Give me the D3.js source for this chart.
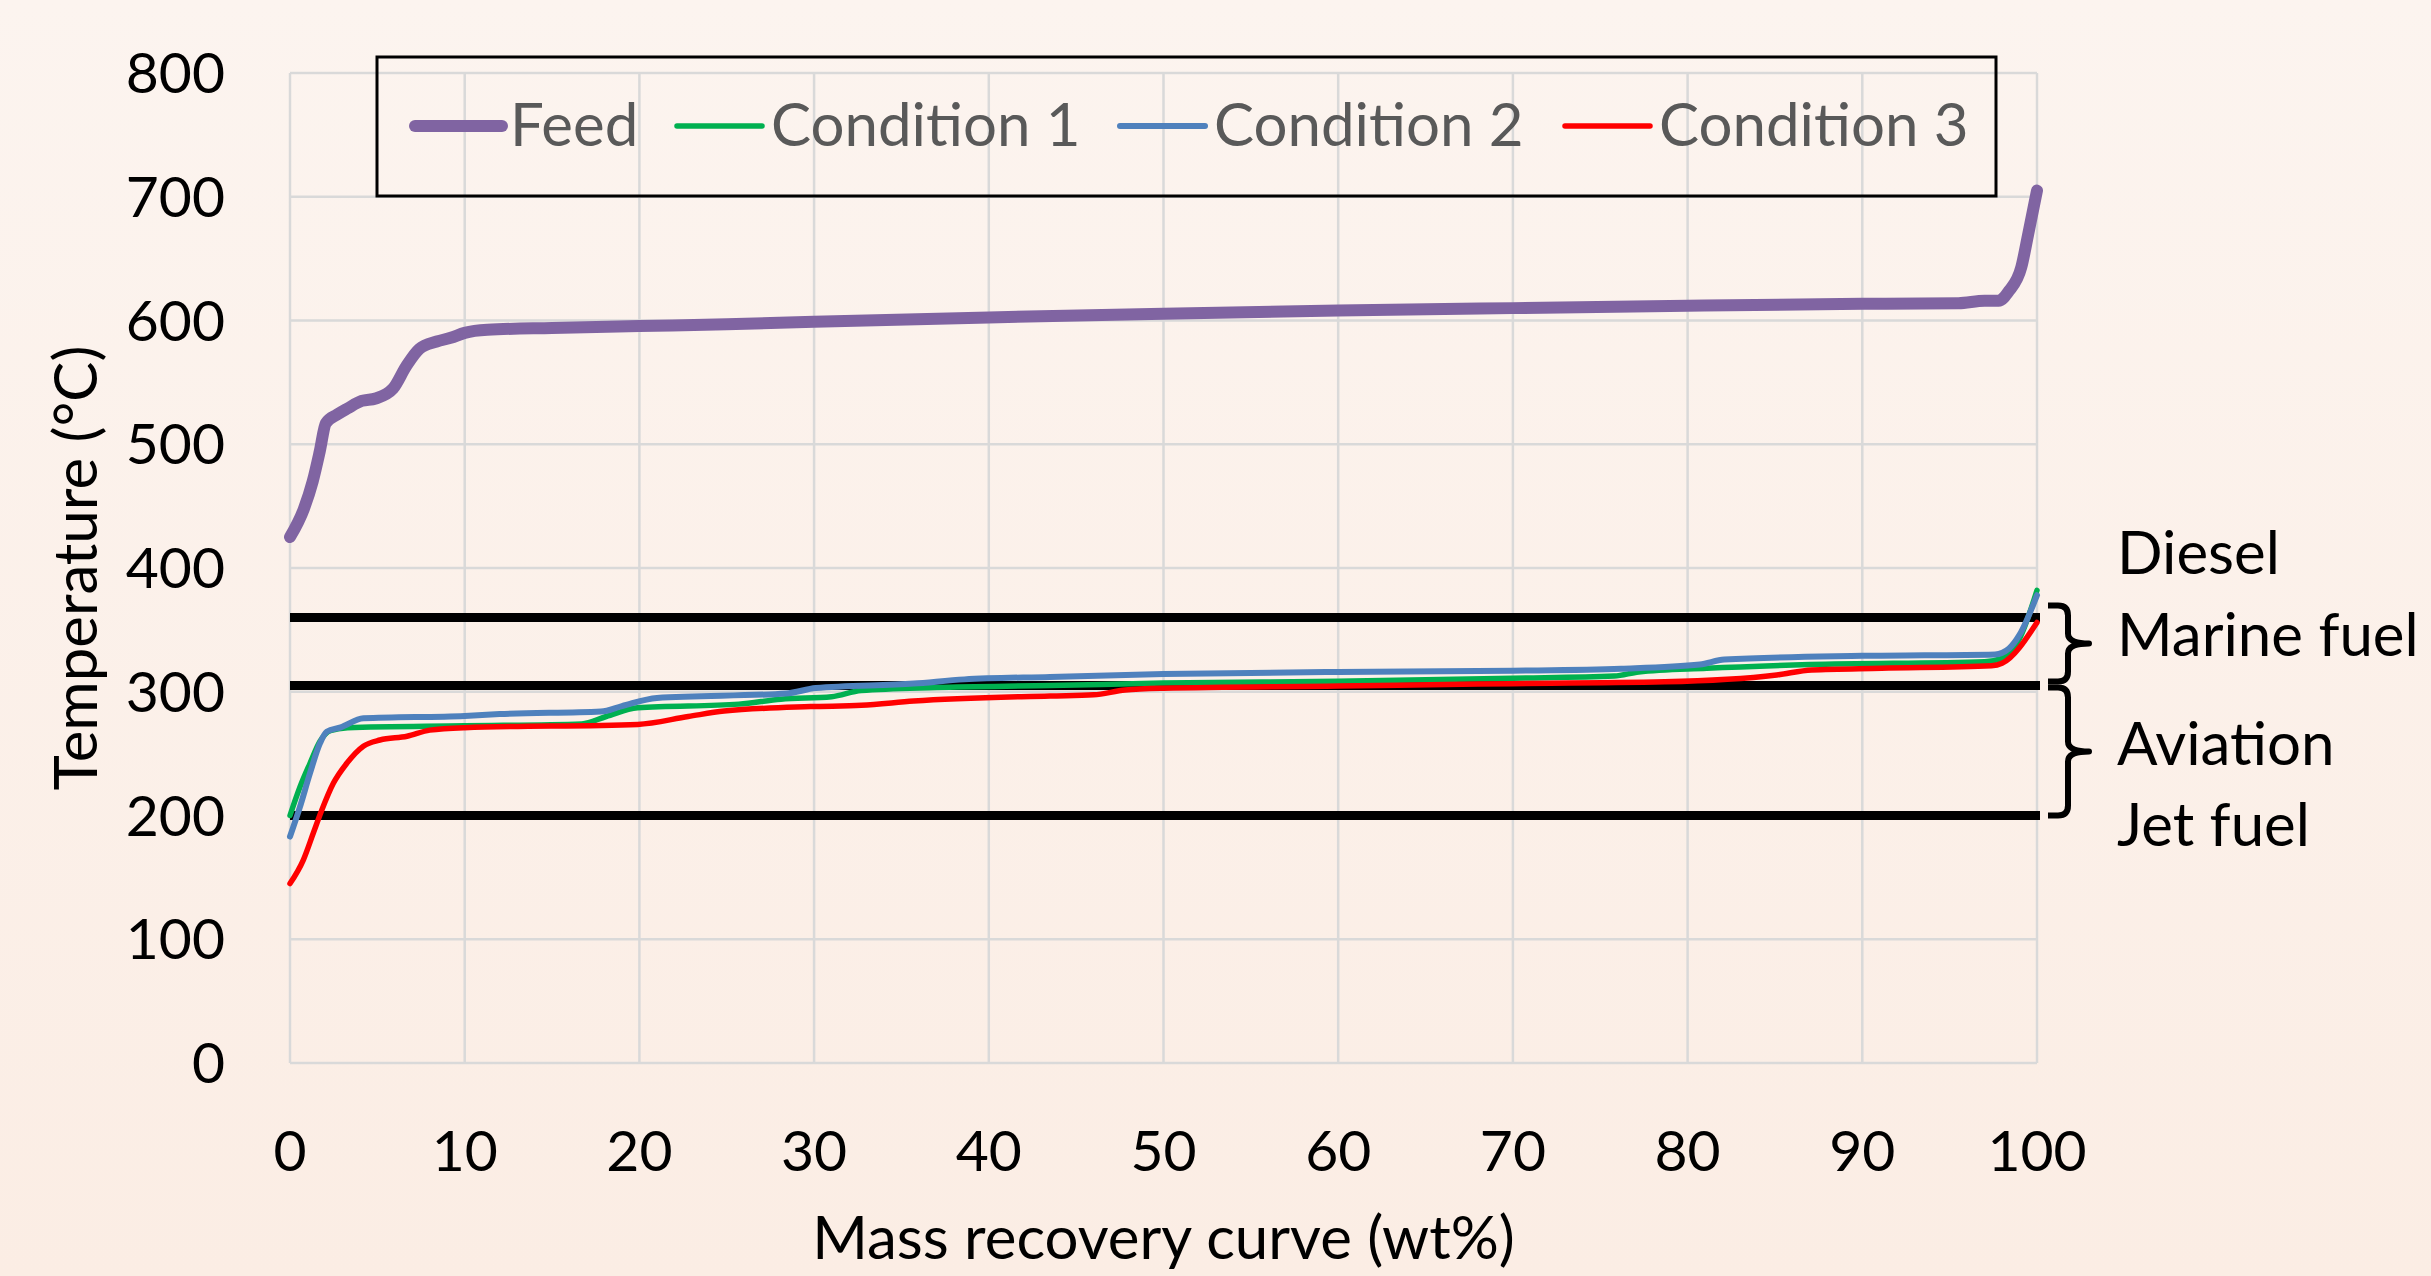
<!DOCTYPE html>
<html>
<head>
<meta charset="utf-8">
<script src="https://cdn.jsdelivr.net/npm/d3@7"></script>
<style>
  html, body { margin: 0; padding: 0; background: #fcf2eb; }
  svg { display: block; }
  text { font-family: Lato, "Open Sans", sans-serif; }
</style>
</head>
<body>
<svg id="chart" width="2431" height="1276"></svg>
<script>
// ---------------- data ----------------
const xTicks = [0, 10, 20, 30, 40, 50, 60, 70, 80, 90, 100];
const yTicks = [0, 100, 200, 300, 400, 500, 600, 700, 800];

const feedX = [0, 0.8, 1.3, 1.7, 2.05, 2.7, 3.3, 4.1, 4.9, 5.9, 6.65, 7.4, 8.4, 9.2, 10, 11.3, 15, 20, 25, 30, 40, 50, 60, 70, 80, 90, 95.5, 97, 97.8, 98.4, 99.1, 99.5, 100];
const feedY = [425, 448, 470, 494, 517, 524, 529, 535, 537, 545, 563, 577, 583, 586, 590, 592.5, 594, 595.5, 597, 599, 602.5, 605.5, 608, 610, 612, 613.5, 614, 616, 616, 624, 643, 670, 705];

const cond1X = [0, 0.57, 1.14, 1.72, 2.3, 3.3, 10, 16.7, 18.1, 19.9, 25.7, 28.1, 31, 32.7, 37, 43.5, 50, 60, 70, 75.8, 77.2, 81.1, 87, 97, 98, 99, 100];
const cond1Y = [200, 223, 242, 260, 268.5, 271, 272.5, 274, 280, 287, 290, 294, 296, 301, 303.5, 305, 307, 308.5, 311, 312.7, 316, 319, 322, 324.3, 327, 343, 382];

const cond2X = [0, 0.57, 1.14, 1.72, 2.1, 2.9, 4.2, 10, 12, 17.8, 19, 21, 28.4, 30.1, 35.7, 38.6, 43.5, 50, 60, 70, 76.2, 80.7, 82.1, 90, 97.6, 98.4, 99, 100];
const cond2Y = [183, 207, 234, 258.5, 267.7, 271.2, 278.5, 280.5, 282, 284, 288.4, 295, 298.6, 303, 306.6, 310, 312, 314.3, 316, 317, 318.6, 322, 326, 329, 330.2, 335, 346, 378];

const cond3X = [0, 0.76, 1.34, 1.81, 2.48, 3.24, 4.2, 5.15, 6.7, 8.0, 10, 19.9, 22.8, 24.85, 29.8, 32.7, 35.7, 43.5, 46, 47.8, 50, 60, 68, 78.7, 85.1, 87.1, 91.1, 97.4, 98, 100];
const cond3Y = [145, 164, 186, 204, 226, 242, 256, 261, 264, 269, 271, 273.6, 280, 284.4, 288, 289, 292.5, 296.6, 297.5, 301.4, 302.8, 304.6, 306.3, 308, 313.5, 317.6, 319, 321, 323, 356];

const seriesNames = ["Feed", "Condition 1", "Condition 2", "Condition 3"];
const seriesColors = ["#8064A2", "#00B050", "#4F81BD", "#FF0000"];

const boundaryTemps = [360, 305, 200];
const fuelLabels = ["Diesel", "Marine fuel", "Aviation", "Jet fuel"];
const fuelLabelTemps = [395, 329, 241, 175];
const braceRanges = [[360, 305], [305, 200]];

// ---------------- layout ----------------
const W = 2431, H = 1276;
const plot = { left: 290, right: 2037, top: 73, bottom: 1063 };
const svg = d3.select("#chart");

const defs = svg.append("defs");
const grad = defs.append("linearGradient").attr("id", "bg").attr("x1", 0).attr("y1", 0).attr("x2", 0).attr("y2", 1);
grad.append("stop").attr("offset", "0%").attr("stop-color", "#fcf4ef");
grad.append("stop").attr("offset", "100%").attr("stop-color", "#fbede4");
svg.append("rect").attr("width", W).attr("height", H).attr("fill", "url(#bg)");

const x = d3.scaleLinear().domain([0, 100]).range([plot.left, plot.right]);
const y = d3.scaleLinear().domain([0, 800]).range([plot.bottom, plot.top]);

// gridlines
const grid = svg.append("g");
grid.selectAll("line.h").data(yTicks).join("line")
  .attr("x1", plot.left).attr("x2", plot.right)
  .attr("y1", d => y(d)).attr("y2", d => y(d))
  .attr("stroke", "#d9d9d9").attr("stroke-width", 2.5);
grid.selectAll("line.v").data(xTicks).join("line")
  .attr("y1", plot.top).attr("y2", plot.bottom)
  .attr("x1", d => x(d)).attr("x2", d => x(d))
  .attr("stroke", "#d9d9d9").attr("stroke-width", 2.5);

// tick labels
svg.append("g").selectAll("text").data(yTicks).join("text")
  .attr("x", 225).attr("y", d => y(d) + 20)
  .attr("text-anchor", "end").attr("font-size", 57).attr("fill", "#000")
  .text(d => d);
svg.append("g").selectAll("text").data(xTicks).join("text")
  .attr("x", d => x(d)).attr("y", 1171)
  .attr("text-anchor", "middle").attr("font-size", 57).attr("fill", "#000")
  .text(d => d);

// axis titles
svg.append("text").attr("x", (plot.left + plot.right) / 2).attr("y", 1259)
  .attr("text-anchor", "middle").attr("font-size", 60).attr("fill", "#000")
  .text("Mass recovery curve (wt%)");
svg.append("text")
  .attr("transform", `translate(97, ${(plot.top + plot.bottom) / 2}) rotate(-90)`)
  .attr("text-anchor", "middle").attr("font-size", 60).attr("fill", "#000")
  .text("Temperature (°C)");

// boundary lines
svg.append("g").selectAll("line").data(boundaryTemps).join("line")
  .attr("x1", x(0)).attr("x2", x(100) + 3)
  .attr("y1", d => y(d)).attr("y2", d => y(d))
  .attr("stroke", "#000").attr("stroke-width", 9);

// series
const series = [
  { xs: feedX, ys: feedY, w: 12 },
  { xs: cond1X, ys: cond1Y, w: 5.5 },
  { xs: cond2X, ys: cond2Y, w: 6 },
  { xs: cond3X, ys: cond3Y, w: 5.5 }
];
const line = d3.line().x(d => x(d[0])).y(d => y(d[1])).curve(d3.curveMonotoneX);
series.forEach((s, i) => {
  const pts = s.xs.map((v, j) => [v, s.ys[j]]);
  svg.append("path").datum(pts)
    .attr("d", line).attr("fill", "none")
    .attr("stroke", seriesColors[i]).attr("stroke-width", s.w)
    .attr("stroke-linejoin", "round").attr("stroke-linecap", "round");
});

// braces
function bracePath(yTop, yBot, xTip, xSpine, xPoint) {
  const ym = (yTop + yBot) / 2;
  const r = 10;
  return `M${xTip},${yTop} L${xSpine - r},${yTop} Q${xSpine},${yTop} ${xSpine},${yTop + r}` +
    ` L${xSpine},${ym - r} Q${xSpine},${ym} ${xPoint},${ym}` +
    ` Q${xSpine},${ym} ${xSpine},${ym + r} L${xSpine},${yBot - r} Q${xSpine},${yBot} ${xSpine - r},${yBot} L${xTip},${yBot}`;
}
svg.append("g").selectAll("path").data(braceRanges).join("path")
  .attr("d", (d, i) => bracePath(y(d[0]) - 12 + i * 14, y(d[1]) + (i === 0 ? -4 : 0), 2048, 2068, 2089))
  .attr("fill", "none").attr("stroke", "#000").attr("stroke-width", 6)
  .attr("stroke-linejoin", "round");

// fuel labels
svg.append("g").selectAll("text").data(fuelLabels).join("text")
  .attr("x", 2117).attr("y", (d, i) => y(fuelLabelTemps[i]))
  .attr("font-size", 60).attr("fill", "#000")
  .text(d => d);

// legend
const lg = svg.append("g");
lg.append("rect").attr("x", 377).attr("y", 57).attr("width", 1619).attr("height", 139)
  .attr("fill", "none").attr("stroke", "#000").attr("stroke-width", 3);
const legX = [415, 677, 1120, 1565];
seriesNames.forEach((name, i) => {
  lg.append("line").attr("x1", legX[i]).attr("x2", legX[i] + (i === 0 ? 87 : 85))
    .attr("y1", 126).attr("y2", 126)
    .attr("stroke", seriesColors[i]).attr("stroke-width", series[i].w)
    .attr("stroke-linecap", "round");
  lg.append("text").attr("x", legX[i] + (i === 0 ? 95 : 94)).attr("y", 146)
    .attr("font-size", 60).attr("fill", "#595959").text(name);
});
</script>
</body>
</html>
